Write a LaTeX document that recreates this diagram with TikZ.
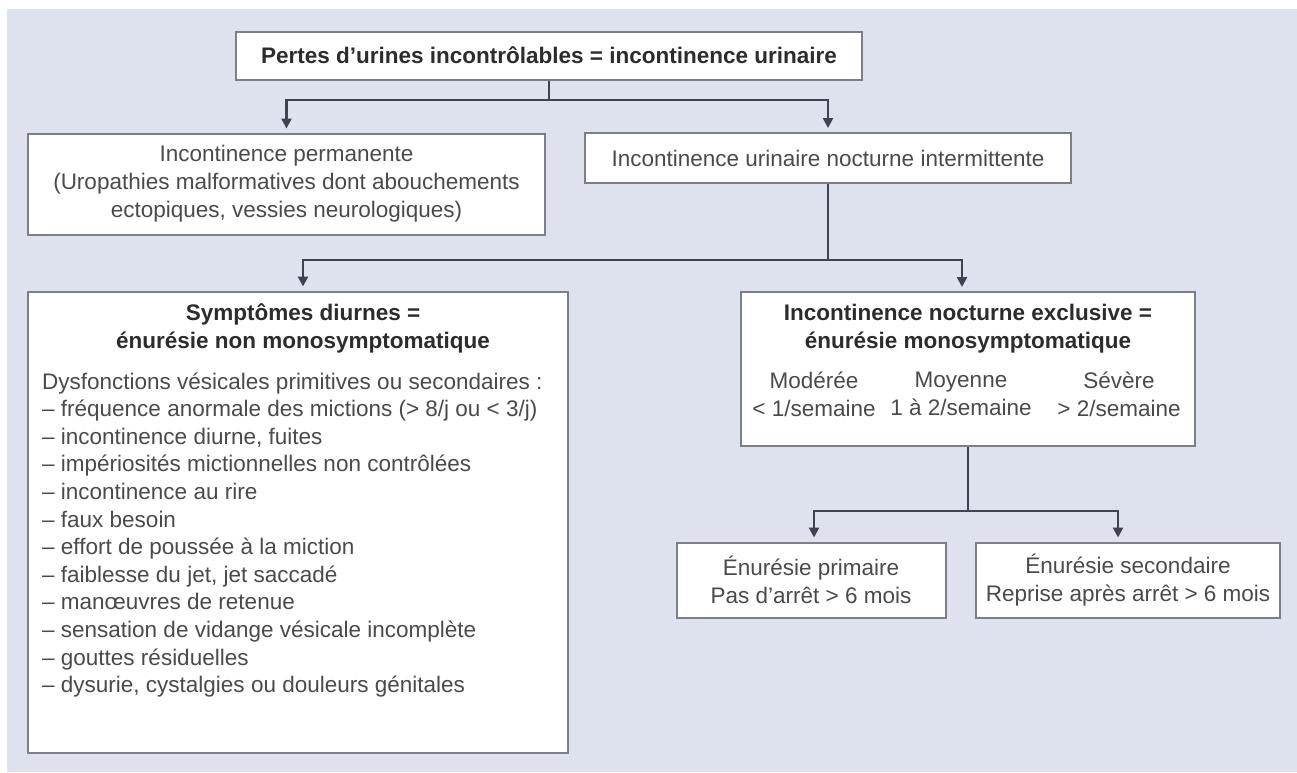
\documentclass[tikz,border=0pt]{standalone}
\usepackage{fontspec}
\setmainfont{Liberation Sans}
\usetikzlibrary{arrows.meta}
\definecolor{bg}{HTML}{DEE2EF}
\definecolor{bordc}{HTML}{7E7F86}
\definecolor{linec}{HTML}{3E4252}
\definecolor{txt}{HTML}{4A4A4A}
\definecolor{txtb}{HTML}{2C2C2C}
\begin{document}
\begin{tikzpicture}[x=1pt,y=-1pt,
  fnt/.style={font=\fontsize{22.5}{28}\selectfont},
  bfnt/.style={font=\fontsize{22.5}{28}\selectfont\bfseries, text=txtb},
  box/.style={draw=bordc, line width=2pt, fill=white, inner sep=0pt, fnt, text=txt, align=center},
  lbl/.style={inner sep=0pt, fnt, text=txt, align=center},
  conn/.style={draw=linec, line width=2.5pt},
  arr/.style={conn, -{Triangle[width=10pt,length=10pt]}, shorten >=4pt},
  ]
\useasboundingbox (0,0) rectangle (1297,772);
\fill[white] (0,0) rectangle (1297,772);
\fill[bg] (7,9) rectangle (1297,772);

\node[box, bfnt, minimum width=626pt, minimum height=48pt] (top) at (549,55.5) {Pertes d'urines incontrôlables = incontinence urinaire};
\node[box, minimum width=517pt, minimum height=101pt] (perm) at (286.5,184) {Incontinence permanente\\(Uropathies malformatives dont abouchements\\ectopiques, vessies neurologiques)};
\node[box, minimum width=486pt, minimum height=50pt] (inter) at (828,158) {Incontinence urinaire nocturne intermittente};
\node[box, minimum width=540pt, minimum height=461pt] (symp) at (298,522) {};
\node[box, minimum width=454pt, minimum height=154pt] (noct) at (968,369) {};
\node[box, minimum width=269pt, minimum height=75pt] (prim) at (811,580) {Énurésie primaire\\Pas d'arrêt > 6 mois};
\node[box, minimum width=304pt, minimum height=75pt] (sec) at (1128,580) {Énurésie secondaire\\Reprise après arrêt > 6 mois};

\node[lbl, bfnt] (symptitle) at (303,328) {Symptômes diurnes =\\énurésie non monosymptomatique};
\node[lbl, anchor=west, align=left, font=\fontsize{22.5}{27.6}\selectfont] (symplist) at (42,535) {Dysfonctions vésicales primitives ou secondaires :\\
– fréquence anormale des mictions (> 8/j ou < 3/j)\\
– incontinence diurne, fuites\\
– impériosités mictionnelles non contrôlées\\
– incontinence au rire\\
– faux besoin\\
– effort de poussée à la miction\\
– faiblesse du jet, jet saccadé\\
– manœuvres de retenue\\
– sensation de vidange vésicale incomplète\\
– gouttes résiduelles\\
– dysurie, cystalgies ou douleurs génitales};

\node[lbl, bfnt] (nocttitle) at (968,329) {Incontinence nocturne exclusive =\\énurésie monosymptomatique};
\node[lbl] (mod) at (814,394) {Modérée\\< 1/semaine};
\node[lbl] (moy) at (961,394) {Moyenne\\1 à 2/semaine};
\node[lbl] (sev) at (1119,394) {Sévère\\> 2/semaine};

\coordinate (j1) at (549,100);
\draw[conn] (top.south) -- (j1);
\draw[arr] (j1) -| (perm.north);
\draw[arr] (j1) -| (inter.north);

\coordinate (j2) at (828,260);
\draw[conn] (inter.south) -- (j2);
\draw[arr] (j2) -| ([xshift=5pt]symp.north);
\draw[arr] (j2) -| ([xshift=-6pt]noct.north);

\coordinate (j3) at (968,511);
\draw[conn] (noct.south) -- (j3);
\draw[arr] (j3) -| ([xshift=3pt]prim.north);
\draw[arr] (j3) -| ([xshift=-10pt]sec.north);
\end{tikzpicture}
\end{document}
